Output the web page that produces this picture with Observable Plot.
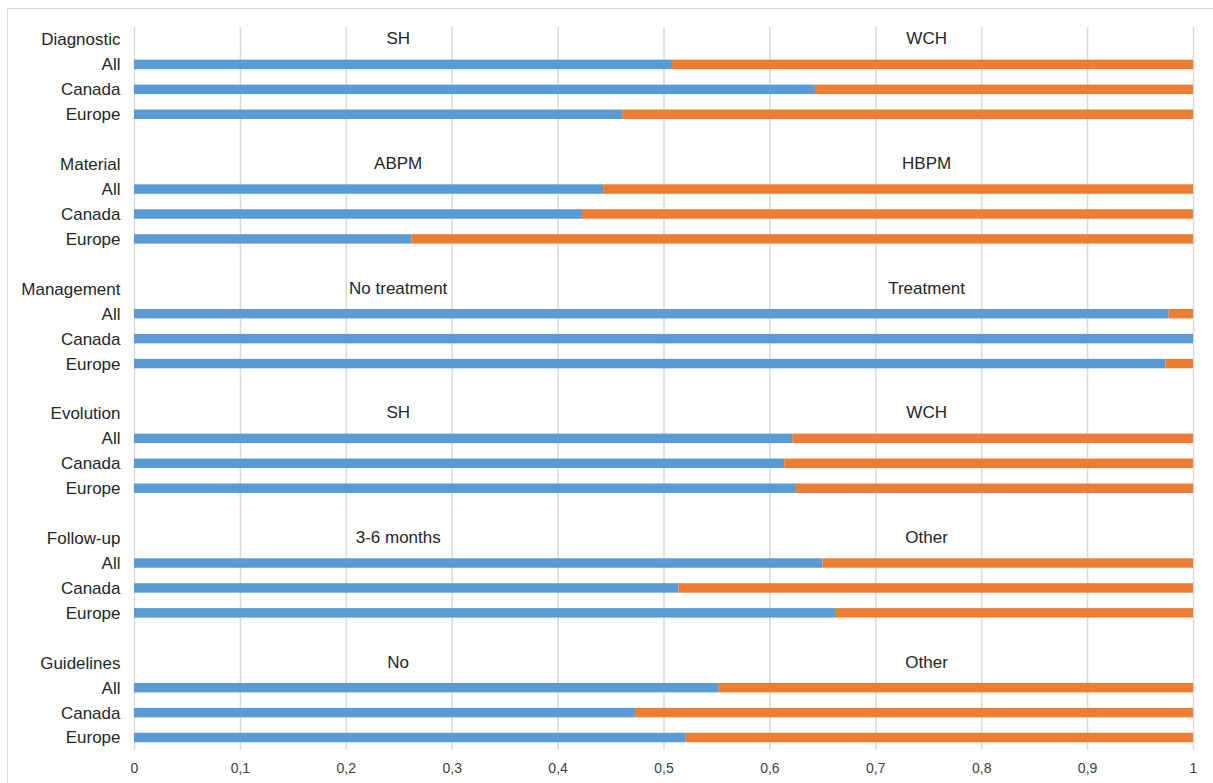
<!DOCTYPE html>
<html>
<head>
<meta charset="utf-8">
<script src="https://cdn.jsdelivr.net/npm/d3@7"></script>
<script src="https://cdn.jsdelivr.net/npm/@observablehq/plot@0.6"></script>
<style>
  html, body { margin: 0; padding: 0; background: #fff; }
  #wrap { position: relative; width: 1213px; height: 783px; overflow: hidden; background: #fff; }
  #frame { position: absolute; left: 7px; top: 8px; width: 1220px; height: 800px;
           border-left: 1px solid #d9d9d9; border-top: 1px solid #d9d9d9; }
  #chart { position: absolute; left: 0; top: 0; }
</style>
</head>
<body>
<div id="wrap"><div id="frame"></div><div id="chart"></div></div>
<script>
const groups = ["Diagnostic", "Material", "Management", "Evolution", "Follow-up", "Guidelines"];
const regions = ["All", "Canada", "Europe"];
const leftLabels = ["SH", "ABPM", "No treatment", "SH", "3-6 months", "No"];
const rightLabels = ["WCH", "HBPM", "Treatment", "WCH", "Other", "Other"];
const diagnostic = [0.508, 0.643, 0.461];
const material = [0.443, 0.423, 0.262];
const management = [0.977, 1.0, 0.974];
const evolution = [0.622, 0.614, 0.625];
const followUp = [0.650, 0.514, 0.662];
const guidelines = [0.552, 0.473, 0.521];
const xTicks = [0, 0.1, 0.2, 0.3, 0.4, 0.5, 0.6, 0.7, 0.8, 0.9, 1];

const shares = [diagnostic, material, management, evolution, followUp, guidelines];

// y domain: header row, then regions, with a blank row between groups
const domain = [];
groups.forEach((g, i) => {
  if (i > 0) domain.push("gap" + i);
  domain.push(g);
  regions.forEach(r => domain.push(g + "|" + r));
});

const rows = [];
groups.forEach((g, i) => {
  regions.forEach((r, j) => {
    const v = shares[i][j];
    rows.push({key: g + "|" + r, series: "first", value: v});
    rows.push({key: g + "|" + r, series: "second", value: 1 - v});
  });
});

const labels = [];
groups.forEach((g, i) => {
  labels.push({key: g, side: "left", text: leftLabels[i]});
  labels.push({key: g, side: "right", text: rightLabels[i]});
});

const yFormat = k => k.startsWith("gap") ? "" : (k.includes("|") ? k.split("|")[1] : k);
const xFormat = d => String(+d.toFixed(1)).replace(".", ",");

const chart = Plot.plot({
  width: 1213,
  height: 783,
  marginLeft: 134,
  marginRight: 20,
  marginTop: 27,
  marginBottom: 33,
  style: {fontFamily: "'Liberation Sans', Arial, sans-serif", color: "#262626", background: "transparent"},
  x: {domain: [0, 1], ticks: xTicks, tickFormat: xFormat, label: null},
  y: {domain, paddingInner: 0.62, paddingOuter: 0.31, round: false, label: null},
  color: {domain: ["first", "second"], range: ["#5B9BD5", "#ED7D31"]},
  marks: [
    Plot.gridX(xTicks, {stroke: "#d9d9d9", strokeOpacity: 1, strokeWidth: 1.5}),
    Plot.barX(rows, Plot.stackX({x: "value", y: "key", fill: "series"})),
    Plot.text(labels, {
      x: d => d.side === "left" ? 0.249 : 0.748,
      y: "key",
      text: "text",
      fontSize: 17,
      dy: -1,
      fill: "#262626"
    }),
    Plot.axisY({tickSize: 0, tickPadding: 14, tickFormat: yFormat, fontSize: 17, label: null, style: "letter-spacing:0.2px"}),
    Plot.axisX({ticks: xTicks, tickFormat: xFormat, tickSize: 0, tickPadding: 13, fontSize: 14, label: null, fill: "#404040"})
  ]
});
document.getElementById("chart").appendChild(chart);
</script>
</body>
</html>
